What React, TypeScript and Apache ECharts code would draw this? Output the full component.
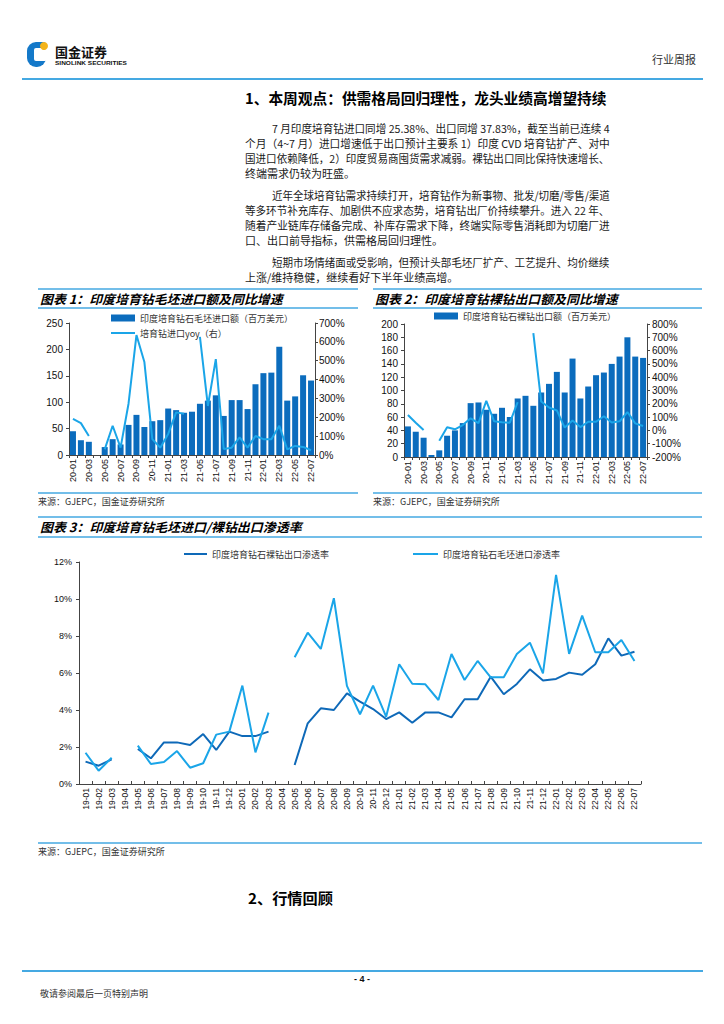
import React, { useEffect, useRef } from 'react';
import * as echarts from 'echarts';

// ---------- data ----------
const months1 = ['20-01','20-02','20-03','20-04','20-05','20-06','20-07','20-08','20-09','20-10','20-11','20-12',
  '21-01','21-02','21-03','21-04','21-05','21-06','21-07','21-08','21-09','21-10','21-11','21-12',
  '22-01','22-02','22-03','22-04','22-05','22-06','22-07'];
const months3 = ['19-01','19-02','19-03','19-04','19-05','19-06','19-07','19-08','19-09','19-10','19-11','19-12',
  '20-01','20-02','20-03','20-04','20-05','20-06','20-07','20-08','20-09','20-10','20-11','20-12',
  '21-01','21-02','21-03','21-04','21-05','21-06','21-07','21-08','21-09','21-10','21-11','21-12',
  '22-01','22-02','22-03','22-04','22-05','22-06','22-07'];

// chart 1: rough import value (USD mn) & yoy (%)
const importValue = [45, 28, 25, null, 15, 30, 20, 57, 76, 53, 64, 66, 88, 85, 80, 82, 97, 103, 113, 74, 104, 104, 87, 134, 155, 156, 205, 103, 111, 151, 141];
const importYoy = [191, 169, 101, null, 30, 155, 39, 272, 636, 493, 84, 39, 112, 226, 219, null, 627, 260, 508, 32, 39, 93, 39, 101, 84, 84, 155, 30, 48, 43, 25];
// chart 2: polished export value (USD mn) & yoy (%)
const exportValue = [46, 38, 29, 3, 10, 32, 40, 51, 81, 82, 71, 65, 74, 60, 88, 92, 77, 97, 110, 128, 97, 148, 88, 106, 123, 127, 140, 151, 180, 151, 149];
const exportYoy = [116, 58, 3, null, -78, 23, 8, 40, 91, 55, 222, 68, 61, 58, 213, null, 731, 217, 172, 150, 21, 75, 25, 65, 65, 106, 60, 68, 138, 53, 33];
// chart 3: penetration (%)
const exportPen = [1.21, 0.99, 1.33, null, 1.89, 1.39, 2.25, 2.25, 2.11, 2.70, 1.84, 2.83,
  2.59, 2.59, 2.83, null, 1.03, 3.28, 4.09, 4.00, 4.90, 4.45, 4.05, 3.51,
  3.87, 3.31, 3.87, 3.87, 3.60, 4.58, 4.58, 5.80, 4.85, 5.41, 6.20, 5.59,
  5.68, 6.02, 5.91, 6.47, 7.87, 6.94, 7.15];
const importPen = [1.69, 0.72, 1.42, null, 2.07, 1.08, 1.19, 1.78, 0.88, 1.12, 2.67, 2.83,
  5.32, 1.71, 3.86, null, 6.85, 8.18, 7.30, 10.04, 5.30, 3.77, 5.32, 3.64,
  6.47, 5.42, 5.39, 4.54, 7.03, 5.62, 6.65, 5.77, 5.77, 7.03, 7.64, 5.98,
  11.30, 7.03, 9.10, 7.12, 7.12, 7.78, 6.65];

const nameImpBar = '印度培育钻石毛坯进口额（百万美元）';
const nameImpLine = '培育钻进口yoy（右）';
const nameExpBar = '印度培育钻石裸钻出口额（百万美元）';
const nameExpLine = '培育钻裸钻出口yoy（右）';
const nameExpPen = '印度培育钻石裸钻出口渗透率';
const nameImpPen = '印度培育钻石毛坯进口渗透率';

const para1 = [
  '7 月印度培育钻进口同增 25.38%、出口同增 37.83%，截至当前已连续 4',
  '个月（4~7 月）进口增速低于出口预计主要系 1）印度 CVD 培育钻扩产、对中',
  '国进口依赖降低，2）印度贸易商囤货需求减弱。裸钻出口同比保持快速增长、',
  '终端需求仍较为旺盛。',
];
const para2 = [
  '近年全球培育钻需求持续打开，培育钻作为新事物、批发/切磨/零售/渠道',
  '等多环节补充库存、加剧供不应求态势，培育钻出厂价持续攀升。进入 22 年、',
  '随着产业链库存储备完成、补库存需求下降，终端实际零售消耗即为切磨厂进',
  '口、出口前导指标，供需格局回归理性。',
];
const para3 = [
  '短期市场情绪面或受影响，但预计头部毛坯厂扩产、工艺提升、均价继续',
  '上涨/维持稳健，继续看好下半年业绩高增。',
];

// ---------- styling ----------
const FONT_CN = '"Noto Sans CJK SC", "Noto Sans", sans-serif';
const FONT_NUM = '"Liberation Sans", Arial, sans-serif';
const BAR = '#0b6cbd';
const LIGHT = '#1aa5e8';
const DARK = '#0e69b8';
const RULE = '#45a9e2';
const AX = '#444';

let ctx: CanvasRenderingContext2D | null = null;
function measure(text: string, size: number, weight: string, fstyle: string, family: string) {
  if (!ctx) ctx = document.createElement('canvas').getContext('2d');
  if (!ctx) return 0;
  ctx.font = `${fstyle} ${weight} ${size}px ${family}`;
  return ctx.measureText(text).width;
}

function T(text: string, x: number, y: number, size: number, o: any = {}) {
  const weight = o.bold ? 'bold' : 'normal';
  const fstyle = o.italic ? 'italic' : 'normal';
  const family = o.family || FONT_CN;
  let scaleX = 1;
  if (o.fit) {
    const w = measure(text, size, weight, fstyle, family);
    if (w > 0) scaleX = o.fit / w;
  }
  return {
    type: 'text', x, y, scaleX, silent: true,
    style: {
      text, fontSize: size, fontFamily: family, fontWeight: weight, fontStyle: fstyle,
      fill: o.color || '#1a1a1a', align: o.align || 'left', verticalAlign: 'middle',
    },
  };
}
function L(x1: number, y1: number, x2: number, y2: number, w = 1.5, color = RULE) {
  return { type: 'line', silent: true, shape: { x1, y1, x2, y2 }, style: { stroke: color, lineWidth: w } };
}

function buildGraphic() {
  const g: any[] = [];
  // header logo
  g.push({ type: 'rect', shape: { x: 27, y: 42, width: 19, height: 25, r: [9, 3, 9, 9] }, style: { fill: '#1479c9' } });
  g.push({ type: 'rect', shape: { x: 34, y: 48, width: 13, height: 13, r: 2 }, style: { fill: '#ffffff' } });
  g.push({ type: 'circle', shape: { cx: 44, cy: 46, r: 4 }, style: { fill: '#f4b41a' } });
  g.push(T('国金证券', 55, 51, 13, { bold: true, fit: 52, color: '#111' }));
  g.push(T('SINOLINK SECURITIES', 55, 62.5, 6, { bold: true, fit: 72, family: FONT_NUM, color: '#111' }));
  g.push(T('行业周报', 652, 59, 11, { fit: 44, color: '#333' }));
  g.push(L(22, 79, 703, 79, 2));

  // section 1 title
  g.push(T('1、本周观点：供需格局回归理性，龙头业绩高增望持续', 245, 98, 14.5, { bold: true, fit: 362, color: '#000' }));
  const LEFT = 245, RIGHT = 610, INDENT = 272;
  const drawPara = (lines: string[], y0: number) => {
    lines.forEach((s, i) => {
      const x = i === 0 ? INDENT : LEFT;
      const last = i === lines.length - 1;
      g.push(T(s, x, y0 + i * 15, 11, last ? {} : { fit: RIGHT - x }));
    });
  };
  drawPara(para1, 128);
  drawPara(para2, 195);
  drawPara(para3, 262);

  // chart 1/2 titles
  g.push(L(38, 289, 358, 289));
  g.push(L(38, 308, 358, 308));
  g.push(T('图表 1：印度培育钻毛坯进口额及同比增速', 40, 298.5, 12.5, { bold: true, italic: true, fit: 243, color: '#000' }));
  g.push(L(373, 289, 702, 289));
  g.push(L(373, 308, 702, 308));
  g.push(T('图表 2：印度培育钻裸钻出口额及同比增速', 375, 298.5, 12.5, { bold: true, italic: true, fit: 243, color: '#000' }));
  // sources
  g.push(L(38, 493, 358, 493));
  g.push(T('来源：GJEPC，国金证券研究所', 38, 501, 9, { color: '#333' }));
  g.push(L(373, 493, 702, 493));
  g.push(T('来源：GJEPC，国金证券研究所', 373, 501, 9, { color: '#333' }));

  // chart 3 title
  g.push(L(38, 517, 702, 517));
  g.push(L(38, 537, 702, 537));
  g.push(T('图表 3：印度培育钻毛坯进口/裸钻出口渗透率', 40, 526.5, 12.5, { bold: true, italic: true, fit: 262, color: '#000' }));
  g.push(L(38, 843, 702, 843));
  g.push(T('来源：GJEPC，国金证券研究所', 38, 851, 9, { color: '#333' }));

  // section 2
  g.push(T('2、行情回顾', 248, 898, 14.5, { bold: true, fit: 85, color: '#000' }));

  // footer
  g.push(L(22, 971, 703, 971, 2));
  g.push(T('- 4 -', 362, 979, 9, { bold: true, align: 'center', family: FONT_NUM, color: '#111' }));
  g.push(T('敬请参阅最后一页特别声明', 40, 993, 9, { color: '#333' }));
  return g;
}

const numLabel = (extra: any = {}) => ({ fontSize: 10, color: '#111', fontFamily: FONT_NUM, ...extra });
const axLine = { show: true, lineStyle: { color: AX, width: 1 } };
const axTick = { show: true, length: 3, lineStyle: { color: AX } };

function catAxis(gridIndex: number, data: string[], interval: number, fontSize: number, inside = false) {
  return {
    gridIndex, type: 'category', data,
    axisLine: axLine,
    axisTick: { ...axTick, inside, interval: 0 },
    axisLabel: { interval, rotate: 90, fontSize, color: '#111', fontFamily: FONT_NUM, margin: 4 },
    splitLine: { show: false },
  };
}
function valAxis(gridIndex: number, min: number, max: number, interval: number, position: string, pct: boolean, margin: number, fontSize = 10) {
  return {
    gridIndex, type: 'value', min, max, interval, position,
    axisLine: axLine, axisTick: axTick, splitLine: { show: false },
    axisLabel: numLabel({ formatter: pct ? '{value}%' : '{value}', margin, fontSize }),
  };
}

const legendText = { fontSize: 9, color: '#333', fontFamily: FONT_CN, lineHeight: 12 };
const barLegend = (name: string, left: number, top: number) => ({
  data: [{ name, icon: 'rect' }], left, top, itemWidth: 24, itemHeight: 7,
  selectedMode: false, textStyle: legendText, padding: 0,
});
const lineLegend = (name: string, left: number, top: number, w = 24) => ({
  data: [{ name, icon: 'rect' }], left, top, itemWidth: w, itemHeight: 2,
  selectedMode: false, textStyle: legendText, padding: 0,
});

export default function App() {
  const ref = useRef<HTMLDivElement>(null);
  useEffect(() => {
    if (!ref.current) return;
    const chart = echarts.init(ref.current, undefined, { renderer: 'svg' });
    const option: any = {
      animation: false,
      backgroundColor: '#ffffff',
      grid: [
        { left: 69, top: 323, width: 246, height: 132 },
        { left: 404, top: 324, width: 243, height: 133 },
        { left: 79, top: 562, width: 562, height: 222 },
      ],
      xAxis: [
        catAxis(0, months1, 1, 9),
        catAxis(1, months1, 1, 9),
        catAxis(2, months3, 0, 8.5, true),
      ],
      yAxis: [
        valAxis(0, 0, 250, 50, 'left', false, 6),
        valAxis(0, 0, 700, 100, 'right', true, 4),
        valAxis(1, 0, 200, 20, 'left', false, 6),
        valAxis(1, -200, 800, 100, 'right', true, 5),
        valAxis(2, 0, 12, 2, 'left', true, 7, 9),
      ],
      legend: [
        barLegend(nameImpBar, 111, 312),
        lineLegend(nameImpLine, 111, 327),
        barLegend(nameExpBar, 434, 310),
        lineLegend(nameExpPen, 184, 548, 23),
        lineLegend(nameImpPen, 413, 548, 25),
      ],
      graphic: buildGraphic(),
      series: [
        { name: nameImpBar, type: 'bar', xAxisIndex: 0, yAxisIndex: 0, data: importValue, barWidth: 6, itemStyle: { color: BAR } },
        { name: nameImpLine, type: 'line', xAxisIndex: 0, yAxisIndex: 1, data: importYoy, symbol: 'none', connectNulls: false, lineStyle: { color: LIGHT, width: 2 }, itemStyle: { color: LIGHT } },
        { name: nameExpBar, type: 'bar', xAxisIndex: 1, yAxisIndex: 2, data: exportValue, barWidth: 6, itemStyle: { color: BAR } },
        { name: nameExpLine, type: 'line', xAxisIndex: 1, yAxisIndex: 3, data: exportYoy, symbol: 'none', connectNulls: false, lineStyle: { color: LIGHT, width: 2 }, itemStyle: { color: LIGHT } },
        { name: nameExpPen, type: 'line', xAxisIndex: 2, yAxisIndex: 4, data: exportPen, symbol: 'none', connectNulls: false, lineStyle: { color: DARK, width: 2 }, itemStyle: { color: DARK } },
        { name: nameImpPen, type: 'line', xAxisIndex: 2, yAxisIndex: 4, data: importPen, symbol: 'none', connectNulls: false, lineStyle: { color: LIGHT, width: 2 }, itemStyle: { color: LIGHT } },
      ],
    };
    chart.setOption(option);
    return () => chart.dispose();
  }, []);
  return (
    <div
      ref={ref}
      style={{ position: 'absolute', left: 0, top: 0, width: 724, height: 1024, background: '#fff' }}
    />
  );
}
